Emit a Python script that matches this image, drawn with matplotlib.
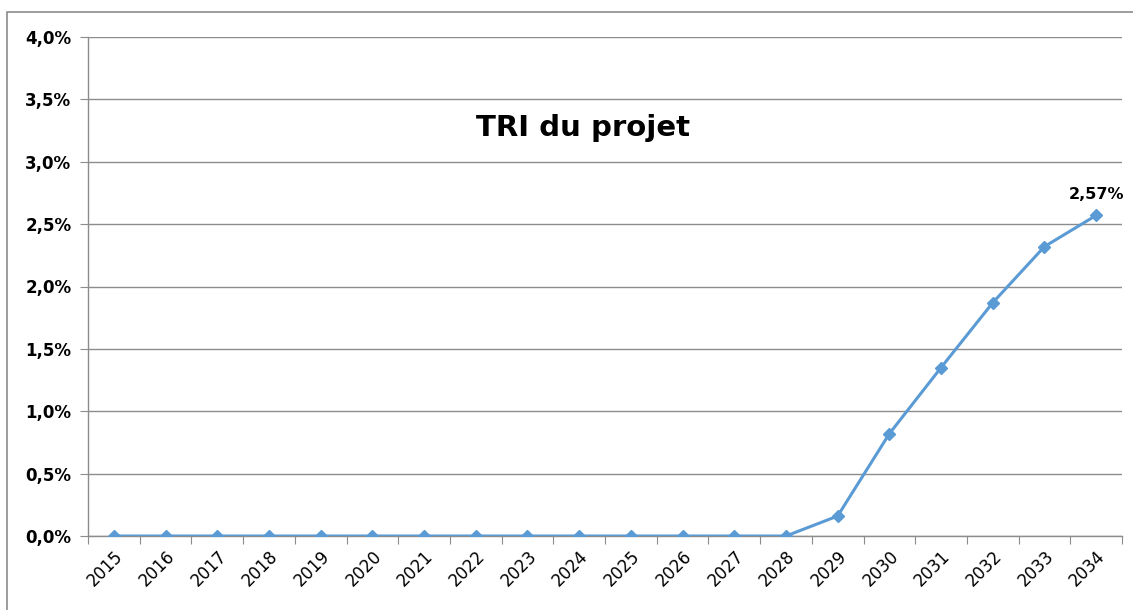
import numpy as np
import matplotlib.pyplot as plt
from matplotlib.patches import Rectangle
from matplotlib.ticker import FuncFormatter

# data
years = [str(y) for y in range(2015, 2035)]
tri = [0.0, 0.0, 0.0, 0.0, 0.0, 0.0, 0.0, 0.0, 0.0, 0.0,
       0.0, 0.0, 0.0, 0.0, 0.16, 0.82, 1.35, 1.87, 2.32, 2.57]
title = "TRI du projet"
last_label = "2,57%"

fig = plt.figure(figsize=(11.33, 6.10), dpi=100)
ax = fig.add_axes([88 / 1133, 1 - 536 / 610, 1034 / 1133, 499 / 610])

# outer chart border
fig.patches.append(Rectangle((7 / 1133, -0.05), 1.1, 1 - 12 / 610 + 0.05,
                             transform=fig.transFigure, fill=False,
                             edgecolor='#8c8c8c', linewidth=1.2))

x = np.arange(len(years))
line_color = '#5b9bd5'
ax.plot(x, tri, color=line_color, linewidth=2.2, marker='D', markersize=6.5, zorder=3)

ax.set_xlim(-0.5, len(years) - 0.5)
ax.set_ylim(0, 4.0)
ax.set_yticks(np.arange(0, 4.01, 0.5))
ax.yaxis.set_major_formatter(FuncFormatter(lambda v, p: f"{v:.1f}%".replace('.', ',')))
ax.grid(axis='y', color='#8c8c8c', linewidth=1)
ax.set_axisbelow(True)

# category ticks at boundaries, labels centred
ax.set_xticks(np.arange(-0.5, len(years), 1.0))
ax.set_xticklabels([])
ax.set_xticks(x, minor=True)
ax.set_xticklabels(years, minor=True, rotation=45, ha='right', va='top',
                   rotation_mode='anchor', fontsize=12)
ax.tick_params(axis='x', which='minor', length=0, pad=8)
ax.tick_params(axis='x', which='major', length=6, color='#8c8c8c', direction='out')
ax.tick_params(axis='y', length=6, color='#8c8c8c', direction='out', pad=6)
for lbl in ax.get_yticklabels():
    lbl.set_fontweight('bold')
    lbl.set_fontsize(12)

for side in ['top', 'right']:
    ax.spines[side].set_visible(False)
for side in ['left', 'bottom']:
    ax.spines[side].set_color('#8c8c8c')
    ax.spines[side].set_linewidth(1)

ax.text(0.479, 0.818, title, transform=ax.transAxes, ha='center', va='center',
        fontsize=21, fontweight='bold')
ax.annotate(last_label, (x[-1], tri[-1]), xytext=(0, 10), textcoords='offset points',
            ha='center', va='bottom', fontsize=11.5, fontweight='bold')

fig.savefig('out.png', dpi=100)
